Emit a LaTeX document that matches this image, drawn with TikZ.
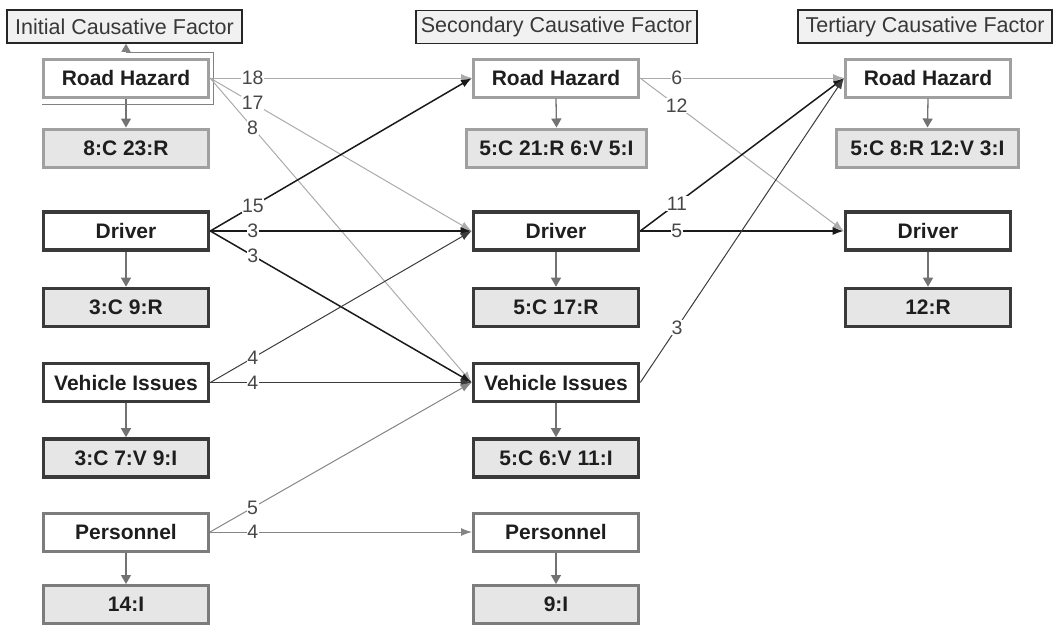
\documentclass[tikz,border=0pt]{standalone}
\usepackage{fontspec}
\setmainfont{Liberation Sans}
\usetikzlibrary{arrows.meta}
\definecolor{rhc}{HTML}{A0A0A0}
\definecolor{dkc}{HTML}{3A3A3A}
\definecolor{pec}{HTML}{7C7C7C}
\definecolor{subf}{HTML}{E6E6E6}
\definecolor{headf}{HTML}{F1F1F1}
\definecolor{txt}{HTML}{1E1E1E}
\definecolor{ltc}{HTML}{ABABAB}
\definecolor{dkl}{HTML}{1A1A1A}
\definecolor{vel}{HTML}{3C3C3C}
\definecolor{pel}{HTML}{858585}
\definecolor{vrc}{HTML}{727272}
\begin{document}
\begin{tikzpicture}[x=1pt,y=-1pt,
  hdr/.style={draw=black!85, line width=1.6pt, fill=headf, inner sep=0pt,
    minimum height=33pt, text=black!78, font=\fontsize{21.5}{24}\selectfont},
  box/.style={draw, fill=white, minimum width=165pt, minimum height=38pt, inner sep=0pt,
    text=txt, font=\bfseries\fontsize{21}{24}\selectfont},
  rhb/.style={box, draw=rhc, line width=3pt},
  dkb/.style={box, draw=dkc, line width=3.6pt},
  peb/.style={box, draw=pec, line width=3pt},
  subbox/.style={fill=subf},
  edge/.style={line width=1pt, -{Latex[length=11pt,width=8pt]}},
  lte/.style={edge, draw=ltc},
  dke/.style={edge, draw=dkl, line width=1.5pt},
  vee/.style={edge, draw=vel},
  pee/.style={edge, draw=pel},
  vert/.style={draw=vrc, line width=1.3pt, -{Triangle[length=9pt,width=10pt]}},
  selc/.style={draw=black!50, line width=0.9pt, -{Triangle[length=8pt,width=9pt]}},
  lbl/.style={fill=white, inner sep=0.6pt, text=black!72, font=\fontsize{19.5}{21}\selectfont}]
\useasboundingbox (0,0) rectangle (1055,627);

% headers
\node[hdr, minimum width=235pt] (hd1) at (124.5,26.5) {Initial Causative Factor};
\node[hdr, minimum width=281pt] (hd2) at (556.5,27) {Secondary Causative Factor};
\node[hdr, minimum width=254pt] (hd3) at (925,26.5) {Tertiary Causative Factor};

% column 1
\node[rhb] (rh1) at (126,78) {Road Hazard};
\node[rhb, subbox] (rs1) at (126,148) {8:C 23:R};
\node[dkb] (dr1) at (126,231) {Driver};
\node[dkb, subbox] (ds1) at (126,307.5) {3:C 9:R};
\node[dkb] (ve1) at (126,382.5) {Vehicle Issues};
\node[dkb, subbox] (vs1) at (126,458) {3:C 7:V 9:I};
\node[peb] (pe1) at (126,532) {Personnel};
\node[peb, subbox] (ps1) at (126,604.5) {14:I};

% column 2
\node[rhb] (rh2) at (556,78) {Road Hazard};
\node[rhb, subbox, minimum width=180pt] (rs2) at (556.5,148) {5:C 21:R 6:V 5:I};
\node[dkb] (dr2) at (556,231) {Driver};
\node[dkb, subbox] (ds2) at (556,307.5) {5:C 17:R};
\node[dkb] (ve2) at (556,382.5) {Vehicle Issues};
\node[dkb, subbox] (vs2) at (556,458) {5:C 6:V 11:I};
\node[peb] (pe2) at (556,532) {Personnel};
\node[peb, subbox] (ps2) at (556,604.5) {9:I};

% column 3
\node[rhb] (rh3) at (928,78) {Road Hazard};
\node[rhb, subbox, minimum width=182pt] (rs3) at (927.5,148) {5:C 8:R 12:V 3:I};
\node[dkb] (dr3) at (928,231) {Driver};
\node[dkb, subbox] (ds3) at (928,307.5) {12:R};

% vertical arrows
\foreach \a/\b in {rh1/rs1,dr1/ds1,ve1/vs1,pe1/ps1,rh2/rs2,dr2/ds2,ve2/vs2,pe2/ps2,rh3/rs3,dr3/ds3}
  \draw[vert] (\a.south) -- (\b.north);

% selection loop around first Road Hazard up to header
\coordinate (c1) at (213,104);
\coordinate (c2) at (213,52);
\draw[selc] (rh1.south west |- c1) -- (c1) -- (c2) -- (rh1.north |- c2) -- (rh1.north |- hd1.south);

% column 1 -> column 2
\draw[lte] (rh1.east) -- node[lbl,pos=.163]{18} (rh2.west);
\draw[lte] (rh1.east) -- node[lbl,pos=.163]{17} (dr2.west);
\draw[lte] (rh1.east) -- node[lbl,pos=.163]{8} (ve2.west);
\draw[dke] (dr1.east) -- node[lbl,pos=.163]{15} (rh2.west);
\draw[dke] (dr1.east) -- node[lbl,pos=.163]{3} (dr2.west);
\draw[dke] (dr1.east) -- node[lbl,pos=.163]{3} (ve2.west);
\draw[vee] (ve1.east) -- node[lbl,pos=.163]{4} (dr2.west);
\draw[vee] (ve1.east) -- node[lbl,pos=.163]{4} (ve2.west);
\draw[pee] (pe1.east) -- node[lbl,pos=.163]{5} (ve2.west);
\draw[pee] (pe1.east) -- node[lbl,pos=.163]{4} (pe2.west);

% column 2 -> column 3
\draw[lte] (rh2.east) -- node[lbl,pos=.18]{6} (rh3.west);
\draw[lte] (rh2.east) -- node[lbl,pos=.18]{12} (dr3.west);
\draw[dke] (dr2.east) -- node[lbl,pos=.18]{11} (rh3.west);
\draw[dke] (dr2.east) -- node[lbl,pos=.18]{5} (dr3.west);
\draw[vee] (ve2.east) -- node[lbl,pos=.18]{3} (rh3.west);
\end{tikzpicture}
\end{document}
